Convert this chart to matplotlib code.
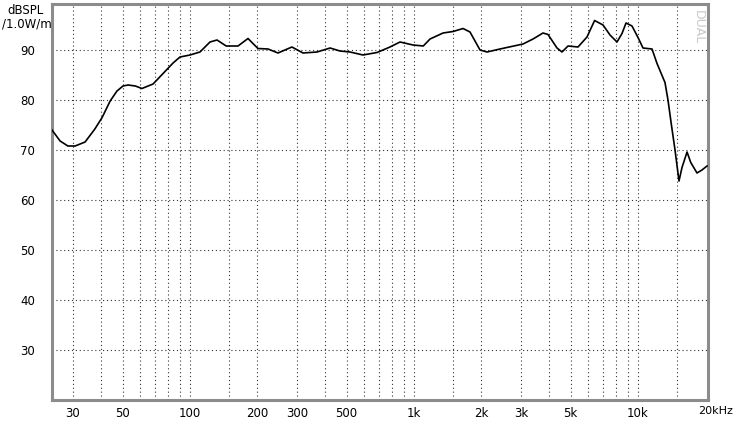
import matplotlib
matplotlib.use("Agg")
import matplotlib.pyplot as plt

# Frequency response data (Hz, dB SPL)
freq_hz = [24.2, 26.3, 28.5, 30.7, 34, 37.6, 40.5, 44, 47.2, 50.2, 52.9, 57, 61, 68.4,
           84, 90.2, 100, 110.8, 122.8, 132, 145, 163.8, 181.5, 201, 223, 247, 285,
           319.5, 369, 422, 467, 518, 592, 684, 781, 866, 990, 1100, 1179, 1348, 1494,
           1655, 1778, 1971, 2118, 2420, 3067, 3399, 3766, 3965, 4349, 4578, 4870,
           5397, 5920, 6400, 6980, 7499, 8057, 8484, 8841, 9402, 10000, 10527, 11548,
           12158, 13197, 13610, 14100, 14630, 15240, 15720, 16556, 17200, 18340,
           19300, 20324]
spl_db = [74.0, 71.8, 70.8, 70.8, 71.6, 74.2, 76.5, 79.8, 81.8, 82.8, 83.0, 82.8, 82.3, 83.2,
          87.4, 88.6, 89.0, 89.6, 91.6, 92.0, 90.8, 90.8, 92.3, 90.3, 90.2, 89.4, 90.6,
          89.4, 89.6, 90.4, 89.8, 89.6, 89.0, 89.5, 90.6, 91.6, 91.0, 90.8, 92.2, 93.4, 93.7,
          94.3, 93.6, 90.0, 89.6, 90.2, 91.2, 92.2, 93.4, 93.1, 90.4, 89.6, 90.8,
          90.6, 92.6, 95.9, 95.0, 93.0, 91.6, 93.3, 95.4, 94.8, 92.5, 90.4, 90.2,
          87.3, 83.5, 80.0, 75.0, 70.0, 63.8, 66.5, 69.6, 67.5, 65.4,
          66.0, 66.8]

x_ticks = [30, 50, 100, 200, 300, 500, 1000, 2000, 3000, 5000, 10000]
x_tick_labels = ["30", "50", "100", "200", "300", "500", "1k", "2k", "3k", "5k", "10k"]
x_grid = [30, 40, 50, 60, 70, 80, 90, 100, 150, 200, 300, 400, 500, 600, 700, 800, 900,
          1000, 1500, 2000, 3000, 4000, 5000, 6000, 7000, 8000, 9000, 10000, 15000]
y_ticks = [30, 40, 50, 60, 70, 80, 90]

W, H = 734, 421
fig = plt.figure(figsize=(W / 100, H / 100), dpi=100)
ax = fig.add_axes([52 / W, (H - 400) / H, 656 / W, 396 / H])

ax.set_xscale("log")
ax.set_xlim(24.2, 20535)
ax.set_ylim(20, 99.2)

for xv in x_grid:
    ax.axvline(xv, color="#333333", lw=0.8, ls=(0, (1, 2.5)), zorder=1)
for yv in y_ticks:
    ax.axhline(yv, color="#333333", lw=0.8, ls=(0, (1, 2.5)), zorder=1)

ax.plot(freq_hz, spl_db, color="black", lw=1.2, zorder=3)

ax.set_xticks(x_ticks)
ax.set_xticklabels(x_tick_labels)
ax.xaxis.set_minor_locator(matplotlib.ticker.NullLocator())
ax.set_yticks(y_ticks)
ax.set_yticklabels([str(v) for v in y_ticks])
ax.tick_params(axis="both", length=0, labelsize=8.5)
ax.tick_params(axis="x", pad=5)
ax.tick_params(axis="y", pad=12)

for s in ax.spines.values():
    s.set_color("#8c8c8c")
    s.set_linewidth(2.2)

fig.text(733 / W, 1 - 411 / H, "20kHz", ha="right", va="center", fontsize=8)
fig.text(44 / W, 1 - 11 / H, "dBSPL", ha="right", va="center", fontsize=8.5)
fig.text(52 / W, 1 - 24 / H, "/1.0W/m", ha="right", va="center", fontsize=8.5)
ax.text(0.985, 0.985, "DUAL", transform=ax.transAxes, rotation=270, ha="center",
        va="top", fontsize=9, color="#c8c8c8", zorder=2)

fig.savefig("out.png", dpi=100, facecolor="white")
